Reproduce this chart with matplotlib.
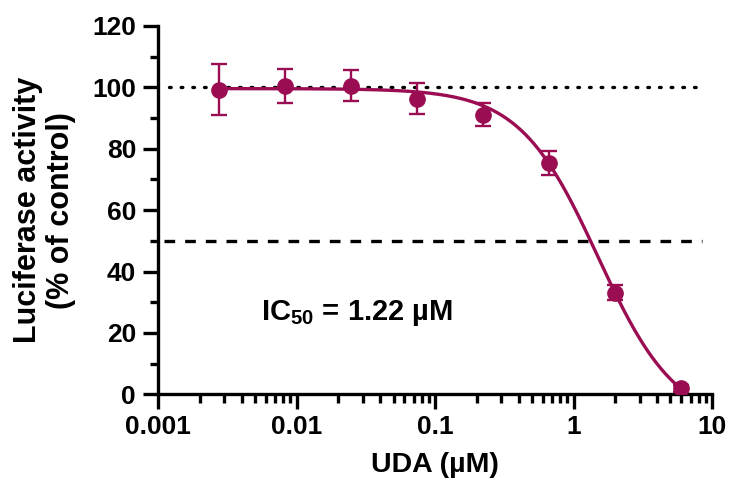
import numpy as np
import matplotlib
matplotlib.use("Agg")
import matplotlib.pyplot as plt
from matplotlib.ticker import LogLocator, FixedLocator, MultipleLocator, NullFormatter

# Data
conc = [0.00274, 0.00823, 0.0247, 0.0741, 0.222, 0.667, 2.0, 6.0]
activity = [99.3, 100.5, 100.6, 96.3, 91.1, 75.4, 33.1, 1.9]
sem = [8.3, 5.6, 5.0, 5.0, 3.7, 3.8, 2.5, 1.0]
# Four-parameter logistic fit parameters
fit_top = 99.6
fit_bottom = -10.0
fit_ec50 = 1.50
fit_hill = 1.53
xtick_vals = [0.001, 0.01, 0.1, 1, 10]
xtick_labels = ["0.001", "0.01", "0.1", "1", "10"]
ytick_vals = [0, 20, 40, 60, 80, 100, 120]
ic50_text = "IC$_{50}$ = 1.22 µM"

plt.rcParams['font.family'] = ['Liberation Sans', 'DejaVu Sans']
plt.rcParams['font.weight'] = 'bold'
plt.rcParams['mathtext.fontset'] = 'custom'
plt.rcParams['mathtext.rm'] = 'Liberation Sans:bold'
plt.rcParams['mathtext.default'] = 'rm'

color = '#9b0d52'

fig = plt.figure(figsize=(7.29, 4.96), dpi=100)
ax = fig.add_axes([0.2172, 0.205, 0.9767 - 0.2172, 0.9476 - 0.205])

xs = np.logspace(np.log10(min(conc)), np.log10(max(conc)), 300)
ys = fit_bottom + (fit_top - fit_bottom) / (1 + (xs / fit_ec50) ** fit_hill)
ax.plot(xs, ys, color=color, lw=2.4, zorder=3)
ax.errorbar(conc, activity, yerr=sem, fmt='o', color=color, ms=11,
            elinewidth=1.7, capsize=6, capthick=1.7, zorder=4)

ax.plot([0.0012, 8.5], [100, 100], color='black', lw=2.4,
        linestyle=(0, (0.5, 3.0)), dash_capstyle='round', zorder=2)
ax.plot([0.00109, 8.5], [50, 50], color='black', lw=2.4,
        linestyle=(0, (3.2, 3.0)), zorder=2)

ax.text(0.0055, 24.3, ic50_text, fontsize=21, fontweight='bold', va='baseline', ha='left')

ax.set_xscale('log')
ax.set_xlim(0.001, 10)
ax.set_ylim(0, 120)
ax.xaxis.set_major_locator(FixedLocator(xtick_vals))
ax.set_xticklabels(xtick_labels)
ax.xaxis.set_minor_locator(LogLocator(base=10, subs=np.arange(2, 10), numticks=20))
ax.xaxis.set_minor_formatter(NullFormatter())
ax.yaxis.set_major_locator(FixedLocator(ytick_vals))
ax.yaxis.set_minor_locator(MultipleLocator(10))

for s in ['top', 'right']:
    ax.spines[s].set_visible(False)
for s in ['left', 'bottom']:
    ax.spines[s].set_linewidth(2.4)

ax.tick_params(axis='both', which='major', width=2.4, labelsize=19, direction='out')
ax.tick_params(axis='x', which='major', length=11, pad=4)
ax.tick_params(axis='x', which='minor', length=6.5, width=2.4)
ax.tick_params(axis='y', which='major', length=11, pad=5)
ax.tick_params(axis='y', which='minor', length=6, width=2.4)
for lab in ax.get_xticklabels() + ax.get_yticklabels():
    lab.set_fontweight('bold')

ax.set_xlabel("UDA (µM)", fontsize=20.5, fontweight='bold', labelpad=9)
ax.set_ylabel("Luciferase activity\n(% of control)", fontsize=22, fontweight='bold',
              labelpad=12, linespacing=1.1)

fig.savefig("out.png", dpi=100)
